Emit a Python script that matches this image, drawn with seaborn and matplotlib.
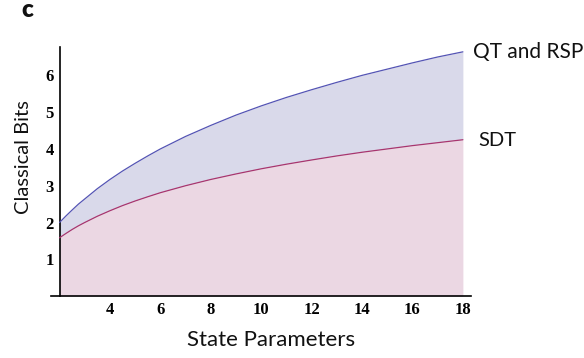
import matplotlib
matplotlib.use("Agg")
import matplotlib.pyplot as plt
import seaborn as sns
import pandas as pd

# Data
state_params = [2, 2.25, 2.5, 2.75, 3, 3.5, 4, 4.5, 5, 5.5, 6, 7, 8, 9, 10, 11, 12, 13, 14, 15, 16, 17, 18]
qt_rsp_bits = [2.00, 2.175, 2.34, 2.50, 2.64, 2.92, 3.17, 3.40, 3.61, 3.81, 4.00, 4.34, 4.64,
               4.92, 5.17, 5.40, 5.61, 5.81, 6.00, 6.17, 6.34, 6.50, 6.64]
sdt_bits = [1.585, 1.70, 1.81, 1.91, 2.00, 2.17, 2.32, 2.46, 2.585, 2.70, 2.81, 3.00, 3.17,
            3.32, 3.46, 3.585, 3.70, 3.81, 3.91, 4.00, 4.09, 4.17, 4.25]
x_ticks = [4, 6, 8, 10, 12, 14, 16, 18]
y_ticks = [1, 2, 3, 4, 5, 6]

sns.set_theme(style="white")
plt.rcParams['font.family'] = ['Lato', 'DejaVu Sans']

df = pd.DataFrame({"x": state_params, "qt": qt_rsp_bits, "sdt": sdt_bits})

fig = plt.figure(figsize=(5.84, 3.58), dpi=100)
ax = fig.add_axes([0.0868, 0.173, 0.806 - 0.0868, 0.8696 - 0.173])

qt_line = "#5454b4"
qt_fill = "#d9d9ea"
sdt_line = "#a8356e"
sdt_fill = "#ebd7e3"

ax.fill_between(df["x"], df["sdt"], df["qt"], color=qt_fill, lw=0, zorder=1)
ax.fill_between(df["x"], 0, df["sdt"], color=sdt_fill, lw=0, zorder=1)
sns.lineplot(data=df, x="x", y="qt", ax=ax, color=qt_line, lw=0.9, zorder=3)
sns.lineplot(data=df, x="x", y="sdt", ax=ax, color=sdt_line, lw=0.9, zorder=3)

ax.set_xlim(1.65, 18.31)
ax.set_ylim(0, 6.78)

for s in ["top", "right"]:
    ax.spines[s].set_visible(False)
ax.spines["left"].set_position(("data", 2))
ax.spines["bottom"].set_position(("data", 0))
for s in ["left", "bottom"]:
    ax.spines[s].set_color("black")
    ax.spines[s].set_linewidth(1.2)

ax.set_xticks(x_ticks)
ax.set_yticks(y_ticks)
ax.tick_params(axis="both", direction="in", length=3, width=0.8, color="black",
               pad=4, labelsize=12)
for lab in ax.get_xticklabels() + ax.get_yticklabels():
    lab.set_fontfamily(["Liberation Serif", "DejaVu Serif"])
    lab.set_fontweight("bold")
    lab.set_color("black")

ax.set_xlabel("")
ax.set_ylabel("")
fig.text(0.465, 0.049, "State Parameters", ha="center", va="center", fontsize=16, color="#111111")
fig.text(0.041, 0.56, "Classical Bits", ha="center", va="center", rotation=90, fontsize=14.5, color="#111111")

ax.text(18.4, 6.64, "QT and RSP", ha="left", va="center", fontsize=15, color="#111111")
ax.text(18.62, 4.24, "SDT", ha="left", va="center", fontsize=14.5, color="#111111")

fig.text(0.046, 0.952, "c", ha="center", va="baseline", fontsize=17.5, fontweight="heavy", color="#111111")

fig.savefig("out.png", dpi=100)
